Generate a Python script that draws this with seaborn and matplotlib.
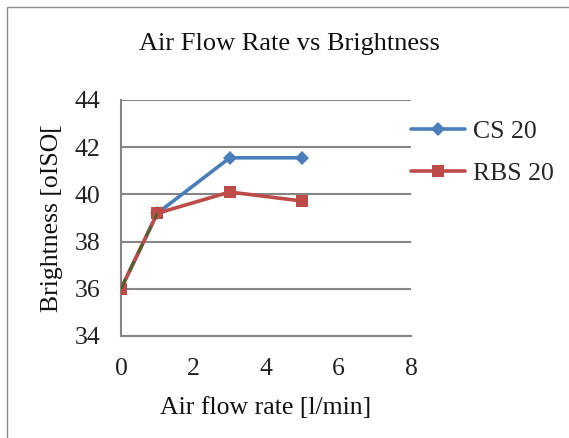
import matplotlib
matplotlib.use("Agg")
import matplotlib.pyplot as plt
import seaborn as sns
import pandas as pd

air_flow = [0, 1, 3, 5]
cs20 = [36.0, 39.2, 41.55, 41.55]
rbs20 = [36.0, 39.2, 40.1, 39.72]
series_names = ["CS 20", "RBS 20"]
x_ticks = [0, 2, 4, 6, 8]
y_ticks = [34, 36, 38, 40, 42, 44]

df = pd.DataFrame({
    "x": air_flow * 2,
    "y": cs20 + rbs20,
    "series": [series_names[0]] * len(air_flow) + [series_names[1]] * len(air_flow),
})

sns.set_theme(style="white")
plt.rcParams["font.family"] = ["Liberation Serif", "DejaVu Serif"]

fig = plt.figure(figsize=(5.69, 4.38), dpi=100)
ax = fig.add_axes([0.2127, 0.2329, 0.7223 - 0.2127, 0.7717 - 0.2329])

# frame around the chart
fig.patches.append(plt.Rectangle((0.012, -0.1), 1.2, 1.084, transform=fig.transFigure,
                                 fill=False, edgecolor="#8c8c8c", linewidth=1.0))

palette = {"CS 20": "#4A7EBB", "RBS 20": "#BE4B48"}
sns.lineplot(data=df, x="x", y="y", hue="series", style="series",
             markers={"CS 20": "D", "RBS 20": "s"}, dashes=False,
             palette=palette, linewidth=2.6, markersize=8.5, markeredgewidth=0,
             ax=ax, legend=True, zorder=3)
for line in ax.lines:
    if line.get_marker() == "D":
        line.set_markersize(7.5)

# dark dashed segment between first points
ax.plot(air_flow[:2], cs20[:2], color="#4F6228", linestyle=(0, (4, 3)), linewidth=2.0, zorder=4)

ax.set_xlim(0, 8)
ax.set_ylim(34, 44)
ax.set_xticks(x_ticks)
ax.set_yticks(y_ticks)
ax.tick_params(axis="both", labelsize=18.5, colors="#222222", length=6, width=1.5,
               direction="out", color="#868686")
ax.tick_params(axis="x", pad=10)
ax.tick_params(axis="y", pad=9)
ax.yaxis.grid(True, color="#868686", linewidth=1.5)
ax.xaxis.grid(False)
for s in ["top", "right"]:
    ax.spines[s].set_visible(False)
for s in ["left", "bottom"]:
    ax.spines[s].set_color("#868686")
    ax.spines[s].set_linewidth(1.5)
ax.set_axisbelow(True)

ax.set_xlabel("Air flow rate [l/min]", fontsize=18.5, color="#111111", labelpad=12)
ax.set_ylabel("Brightness [oISO[", fontsize=18.5, color="#111111", labelpad=8)
fig.text(0.508, 0.900, "Air Flow Rate vs Brightness", fontsize=19, ha="center", va="center",
         color="#111111")

handles, labels = ax.get_legend_handles_labels()
ax.legend(handles, labels, loc="upper left", bbox_to_anchor=(1.0, 0.915), frameon=False,
          fontsize=18.5, handlelength=2.1, handletextpad=0.3, labelspacing=0.75,
          borderaxespad=0.0, borderpad=0.0)

fig.savefig("out.png", dpi=100)
